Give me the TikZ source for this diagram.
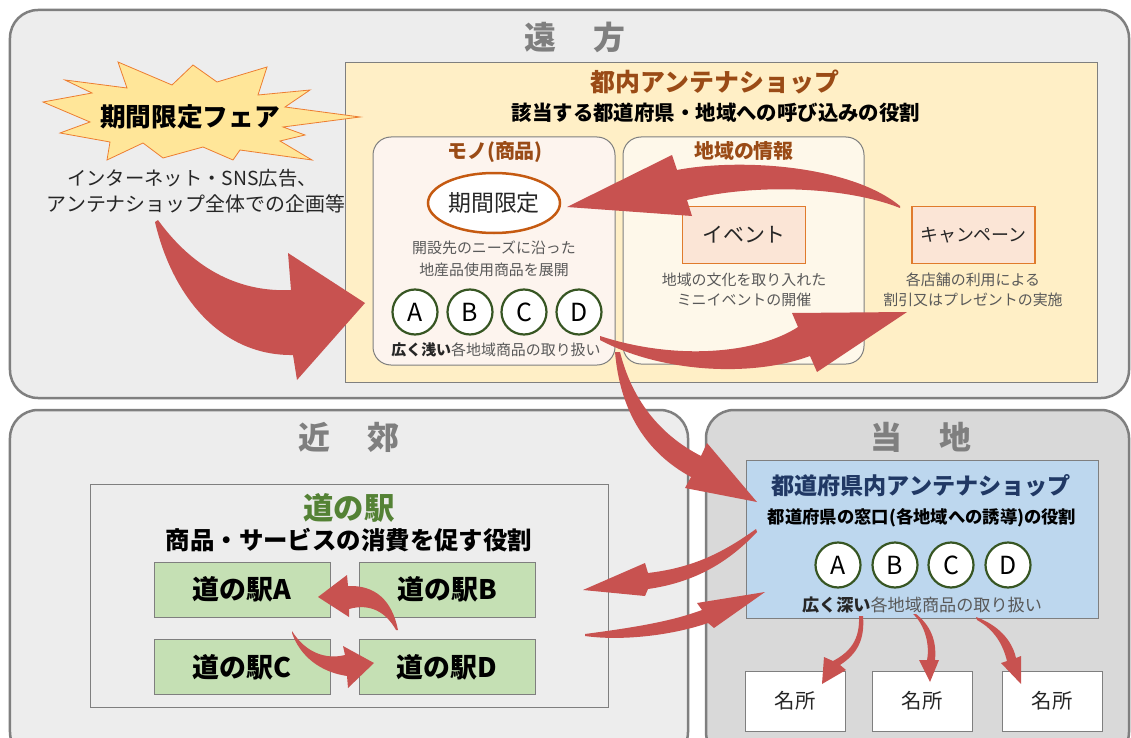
\documentclass[tikz,border=0pt]{standalone}
\usepackage{fontspec}
\setmainfont{Noto Sans CJK JP}
\usetikzlibrary{shapes.geometric}
\definecolor{gborder}{HTML}{7F7F7F}
\definecolor{regfill}{HTML}{EDEDED}
\definecolor{regfilltwo}{HTML}{D9D9D9}
\definecolor{yel}{HTML}{FFEFC6}
\definecolor{monofill}{HTML}{FDF4EE}
\definecolor{infofill}{HTML}{FEF8EA}
\definecolor{brownt}{HTML}{9A4B16}
\definecolor{navyt}{HTML}{203864}
\definecolor{greent}{HTML}{548235}
\definecolor{circline}{HTML}{375623}
\definecolor{darkt}{HTML}{262626}
\definecolor{grayt}{HTML}{595959}
\definecolor{arrowred}{HTML}{C85250}
\definecolor{evfill}{HTML}{FBE5D6}
\definecolor{evline}{HTML}{E07B2C}
\definecolor{ellline}{HTML}{C55A11}
\definecolor{stfill}{HTML}{C5E0B4}
\definecolor{bluefill}{HTML}{BDD7EE}
\definecolor{burstfill}{HTML}{FFE699}
\definecolor{burstline}{HTML}{ED7D31}
\newcommand\fsz[1]{\fontsize{#1}{#1}\selectfont}
\begin{document}
\begin{tikzpicture}[x=1bp,y=-1bp,
  region/.style={draw=gborder, line width=2.5bp, rounded corners=28bp, inner sep=0, outer sep=0},
  plainbox/.style={draw=gborder, line width=0.8bp, inner sep=0, outer sep=0},
  roundbox/.style={draw=gborder, line width=1bp, rounded corners=18bp, inner sep=0, outer sep=0},
  txt/.style={inner sep=0, outer sep=0, text=darkt},
  bigtitle/.style={txt, text=gborder, font=\fsz{32}\bfseries},
  circ/.style={circle, draw=circline, line width=2.2bp, fill=white, minimum size=45bp, inner sep=0, font=\fsz{25}, text=black},
  orbox/.style={draw=evline, line width=1.5bp, fill=evfill, minimum width=123bp, minimum height=57bp, inner sep=0, font=\fsz{21}, text=darkt},
  station/.style={plainbox, fill=stfill, minimum width=176bp, minimum height=55bp, font=\fsz{27}\bfseries, text=black},
  meisho/.style={plainbox, fill=white, minimum width=100bp, minimum height=60bp, font=\fsz{20.5}, text=darkt},
  blockarrow/.style={fill=arrowred, draw=none}]
\useasboundingbox (0,0) rectangle (1131,738);
\clip (0,0) rectangle (1131,738);
\fill[white] (0,0) rectangle (1131,738);

% regions
\node[region, fill=regfill, minimum width=1119bp, minimum height=388bp] (far) at (569.5,204) {};
\node[region, fill=regfill, minimum width=678bp, minimum height=350bp] (near) at (349,585) {};
\node[region, fill=regfilltwo, minimum width=423bp, minimum height=350bp] (local) at (917.5,585) {};
\node[bigtitle] (tfar) at (575,37) {遠\hspace{1.15em}方};
\node[bigtitle] (tnear) at (349,437) {近\hspace{1.15em}郊};
\node[bigtitle] (tlocal) at (921,437) {当\hspace{1.15em}地};

% Tokyo antenna shop
\node[plainbox, fill=yel, minimum width=752bp, minimum height=320bp] (tonai) at (721,222) {};
\node[txt, text=brownt, font=\fsz{25}\bfseries] (tonait) at (715,82) {都内アンテナショップ};
\node[txt, font=\fsz{20.5}\bfseries, text=black] (tonais) at (716,113) {該当する都道府県・地域への呼び込みの役割};

\node[roundbox, fill=monofill, minimum width=242bp, minimum height=228bp] (mono) at (494,251) {};
\node[txt, text=brownt, font=\fsz{20}\bfseries] (monot) at (495,152) {モノ(商品)};
\node[ellipse, draw=ellline, line width=2.5bp, fill=white, minimum width=132bp, minimum height=60bp, inner sep=0, font=\fsz{23}, text=darkt] (limit) at (494,203) {期間限定};
\node[txt, text=grayt, font=\fsz{15}] (mono1) at (494,248) {開設先のニーズに沿った};
\node[txt, text=grayt, font=\fsz{15}] (mono2) at (494,270) {地産品使用商品を展開};
\node[circ] (a1) at (415,312) {A};
\node[circ] (b1) at (470,312) {B};
\node[circ] (c1) at (524,312) {C};
\node[circ] (d1) at (579,312) {D};
\node[txt, text=grayt, font=\fsz{15}] (mono3) at (496,350) {{\color{darkt}\bfseries 広く浅い}各地域商品の取り扱い};

\node[roundbox, fill=infofill, minimum width=241bp, minimum height=227bp] (info) at (743.5,250.5) {};
\node[txt, text=brownt, font=\fsz{20}\bfseries] (infot) at (744,151) {地域の情報};
\node[orbox] (event) at (744,235) {イベント};
\node[txt, text=grayt, font=\fsz{15}] (ev1) at (744,280) {地域の文化を取り入れた};
\node[txt, text=grayt, font=\fsz{15}] (ev2) at (744,300) {ミニイベントの開催};
\node[orbox, font=\fsz{18}] (camp) at (973.5,235) {キャンペーン};
\node[txt, text=grayt, font=\fsz{15}] (cp1) at (973,280) {各店舗の利用による};
\node[txt, text=grayt, font=\fsz{15}] (cp2) at (973,300) {割引又はプレゼントの実施};

% starburst
\draw[fill=burstfill, draw=burstline, line width=0.8bp]
  (65,80) -- (127,88) -- (118,62) -- (172,85) -- (193,65) -- (217,82) -- (267,67) -- (258,95)
  -- (310,90) -- (285,107) -- (360,117) -- (283,127) -- (305,135) -- (280,141) -- (312,160)
  -- (240,150) -- (233,160) -- (203,147) -- (163,158) -- (143,143) -- (107,160) -- (110,142)
  -- (60,133) -- (90,122) -- (43,102) -- (92,93) -- cycle;
\node[txt, font=\fsz{25.8}\bfseries, text=black] (fair) at (190,117) {期間限定フェア};
\node[txt, text=darkt, font=\fsz{19.4}] (fair1) at (192,178) {インターネット・SNS広告、};
\node[txt, text=darkt, font=\fsz{20}] (fair2) at (196,204) {アンテナショップ全体での企画等};

% michi no eki
\node[plainbox, fill=regfill, minimum width=518bp, minimum height=223bp] (michi) at (349,595.5) {};
\node[txt, text=greent, font=\fsz{30.5}\bfseries] (michit) at (349,508) {道の駅};
\node[txt, font=\fsz{24.5}\bfseries, text=black] (michis) at (349,540) {商品・サービスの消費を促す役割};
\node[station] (sa) at (242,589.5) {道の駅A};
\node[station] (sb) at (447,589.5) {道の駅B};
\node[station] (sc) at (242,667) {道の駅C};
\node[station] (sd) at (447,667) {道の駅D};

% local antenna shop
\node[plainbox, fill=bluefill, minimum width=352bp, minimum height=158bp] (pref) at (922,539) {};
\node[txt, text=navyt, font=\fsz{23.2}\bfseries] (preft) at (921,486) {都道府県内アンテナショップ};
\node[txt, font=\fsz{17.4}\bfseries, text=black] (prefs) at (922,518) {都道府県の窓口(各地域への誘導)の役割};
\node[circ] (a2) at (838,565) {A};
\node[circ] (b2) at (895,565) {B};
\node[circ] (c2) at (951,565) {C};
\node[circ] (d2) at (1008,565) {D};
\node[txt, text=grayt, font=\fsz{17.2}] (pref3) at (922,605) {{\color{darkt}\bfseries 広く深い}各地域商品の取り扱い};
\node[meisho] (m1) at (795,701) {名所};
\node[meisho] (m2) at (922,701) {名所};
\node[meisho] (m3) at (1052,701) {名所};

% block arrows
% fair -> tonai
\fill[blockarrow] (158,220) .. controls (200,278) and (250,292) .. (291,290)
  -- (288,253) -- (365,303) -- (297,380) -- (293,355)
  .. controls (220,356) and (172,295) .. (155,222) -- cycle;
% campaign -> limited
\fill[blockarrow] (900,206) .. controls (850,165) and (740,158) .. (677,170)
  -- (672,155) -- (567,207) -- (692,216) -- (687,200)
  .. controls (760,182) and (850,188) .. (900,208) -- cycle;
% D -> campaign
\fill[blockarrow] (600,336) .. controls (680,362) and (760,352) .. (798,327)
  -- (792,313) -- (907,312) -- (817,372) -- (810,356)
  .. controls (750,378) and (660,372) .. (600,340) -- cycle;
% tonai -> pref
\fill[blockarrow] (615,352) .. controls (620,410) and (645,452) .. (691,477)
  -- (685,488) -- (757,502) -- (707,443) -- (701,456)
  .. controls (660,435) and (632,400) .. (620,352) -- cycle;
% pref -> michi
\fill[blockarrow] (756,529) .. controls (720,555) and (690,568) .. (648,573)
  -- (645,563) -- (583,590) -- (645,596) -- (648,589)
  .. controls (690,583) and (725,566) .. (757,532) -- cycle;
% michi -> pref
\fill[blockarrow] (585,634) .. controls (630,628) and (670,622) .. (702,610)
  -- (697,603) -- (765,592) -- (714,628) -- (708,623)
  .. controls (670,636) and (620,641) .. (585,636) -- cycle;
% B -> A
\fill[blockarrow] (398,630) .. controls (392,600) and (375,585) .. (348,586)
  -- (347,575) -- (318,597) -- (349,617) -- (349,609)
  .. controls (370,603) and (386,612) .. (396,630) -- cycle;
% C -> D
\fill[blockarrow] (292,631) .. controls (305,652) and (325,660) .. (345,655)
  -- (343,646) -- (374,663) -- (348,688) -- (347,676)
  .. controls (320,672) and (300,656) .. (292,633) -- cycle;
% pref -> meisho
\fill[blockarrow] (859,616) .. controls (860,640) and (850,652) .. (833,661)
  -- (824,657) -- (822,684) -- (846,670) -- (840,665)
  .. controls (857,654) and (865,640) .. (863,616) -- cycle;
\fill[blockarrow] (913,614) .. controls (925,625) and (930,645) .. (927,660)
  -- (919,660) -- (930,682) -- (939,660) -- (935,660)
  .. controls (937,640) and (930,625) .. (916,614) -- cycle;
\fill[blockarrow] (976,617) .. controls (998,625) and (1012,640) .. (1016,658)
  -- (1021,656) -- (1021,684) -- (1001,663) -- (1007,661)
  .. controls (1003,645) and (995,630) .. (977,620) -- cycle;
\end{tikzpicture}
\end{document}
